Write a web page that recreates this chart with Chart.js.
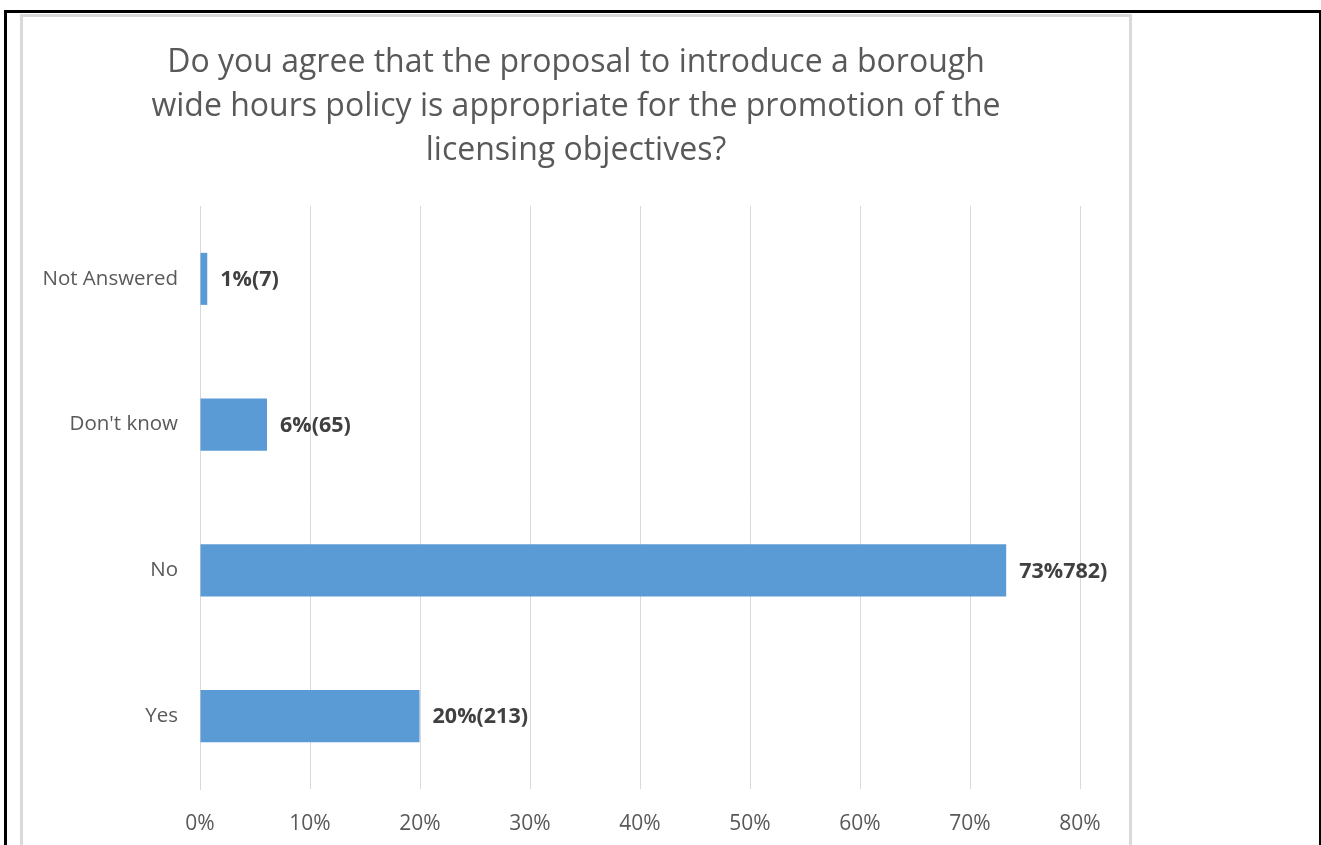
<!DOCTYPE html>
<html lang="en">
<head>
    <meta charset="UTF-8">
    <title>Borough wide hours policy</title>
    <script src="https://cdn.jsdelivr.net/npm/chart.js"></script>
    <style>
        html, body { margin: 0; padding: 0; background: #fff; overflow: hidden; }
        body { width: 1321px; height: 845px; position: relative; }
        /* outer black frame and the inner grey chart frame */
        .outer {
            position: absolute; left: 4px; top: 10px; width: 1312px; height: 900px;
            border: 3px solid #000;
        }
        .inner {
            position: absolute; left: 20px; top: 14px; width: 1106px; height: 900px;
            border: 3px solid #d9d9d9;
        }
        #wrap { position: absolute; left: 23px; top: 17px; width: 1106px; height: 828px; }
    </style>
</head>
<body>
    <div class="outer"></div>
    <div class="inner"></div>
    <div id="wrap"><canvas id="chart"></canvas></div>

    <script>
        // values
        const categories = ['Not Answered', "Don't know", 'No', 'Yes'];
        const percentValues = [0.66, 6.09, 73.29, 19.96];
        const barLabels = ['1%(7)', '6%(65)', '73%782)', '20%(213)'];
        const titleLines = [
            'Do you agree that the proposal to introduce a borough',
            'wide hours policy is appropriate for the promotion of the',
            'licensing objectives?'
        ];
        const xMax = 80;
        const xStep = 10;

        const FONT = '"Open Sans", sans-serif';

        // draws the bold value labels just past the end of each bar
        const barLabelPlugin = {
            id: 'barLabels',
            afterDatasetsDraw(chart) {
                const ctx = chart.ctx;
                const meta = chart.getDatasetMeta(0);
                ctx.save();
                ctx.font = 'bold 21.5px ' + FONT;
                ctx.fillStyle = '#404040';
                ctx.textAlign = 'left';
                ctx.textBaseline = 'middle';
                meta.data.forEach((bar, i) => {
                    ctx.fillText(barLabels[i], bar.x + 13, bar.y + 1);
                });
                ctx.restore();
            }
        };

        new Chart(document.getElementById('chart'), {
            type: 'bar',
            data: {
                labels: categories,
                datasets: [{
                    data: percentValues,
                    backgroundColor: '#5b9bd5',
                    borderWidth: 0,
                    barPercentage: 0.357,
                    categoryPercentage: 1.0
                }]
            },
            options: {
                indexAxis: 'y',
                responsive: true,
                maintainAspectRatio: false,
                animation: false,
                layout: { padding: { left: 0, right: 0, top: 24, bottom: 0 } },
                plugins: {
                    legend: { display: false },
                    tooltip: { enabled: false },
                    title: {
                        display: true,
                        text: titleLines,
                        color: '#595959',
                        font: { family: FONT, size: 32, weight: '400', lineHeight: 1.375 },
                        padding: { top: 0, bottom: 33 }
                    }
                },
                scales: {
                    x: {
                        min: 0,
                        max: xMax,
                        ticks: {
                            stepSize: xStep,
                            color: '#595959',
                            font: { family: FONT, size: 21 },
                            padding: 22,
                            callback: v => v + '%'
                        },
                        grid: { color: '#d9d9d9', lineWidth: 1, drawTicks: false },
                        border: { display: false },
                        // blank strip right of the plot, title stays centred on the frame
                        afterFit: s => { s.height = 56; s.paddingRight = 49; }
                    },
                    y: {
                        ticks: {
                            color: '#595959',
                            font: { family: FONT, size: 20.5 },
                            padding: 22
                        },
                        grid: { display: false, drawTicks: false },
                        border: { display: true, color: '#d9d9d9', width: 1 },
                        afterFit: s => { s.width = 177; }
                    }
                }
            },
            plugins: [barLabelPlugin]
        });
    </script>
</body>
</html>
